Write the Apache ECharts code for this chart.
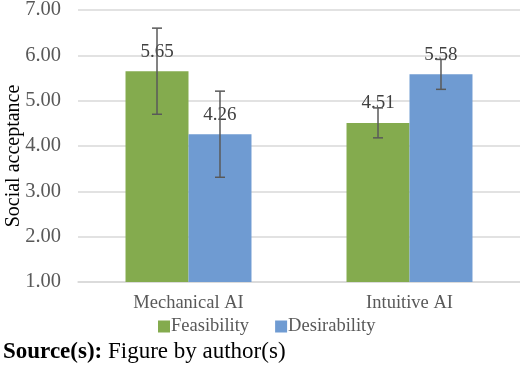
<!DOCTYPE html>
<html>
<head>
<meta charset="utf-8">
<script src="https://cdn.jsdelivr.net/npm/echarts@6/dist/echarts.min.js"></script>
<style>
  html, body { margin: 0; padding: 0; background: #fff; }
  #main { width: 520px; height: 366px; }
</style>
</head>
<body>
<div id="main"></div>
<script>
var categories = ['Mechanical AI', 'Intuitive AI'];
var feasibility = [5.65, 4.51];
var desirability = [4.26, 5.58];
var feasibilityErr = [0.95, 0.33];
var desirabilityErr = [0.95, 0.33];
var yTicks = [1, 2, 3, 4, 5, 6, 7];

var serif = '"Liberation Serif", "Times New Roman", serif';
var chart = echarts.init(document.getElementById('main'));

// error bar for bar series index `idx` (0 = left bar, 1 = right bar)
function errorSeries(name, values, errs, idx) {
  return {
    name: name + ' err',
    type: 'custom',
    z: 10,
    silent: true,
    data: values.map(function (v, i) { return [i, v - errs[i], v + errs[i]]; }),
    renderItem: function (params, api) {
      var ci = api.value(0);
      var lo = api.coord([ci, api.value(1)]);
      var hi = api.coord([ci, api.value(2)]);
      var band = api.size([1, 0])[0];
      var barW = band * 0.285;
      var x = lo[0] + (idx === 0 ? -barW / 2 : barW / 2);
      var cap = 5;
      var style = { stroke: '#595959', lineWidth: 1.5 };
      return {
        type: 'group',
        children: [
          { type: 'line', shape: { x1: x, y1: lo[1], x2: x, y2: hi[1] }, style: style },
          { type: 'line', shape: { x1: x - cap, y1: lo[1], x2: x + cap, y2: lo[1] }, style: style },
          { type: 'line', shape: { x1: x - cap, y1: hi[1], x2: x + cap, y2: hi[1] }, style: style }
        ]
      };
    }
  };
}

var labelStyle = {
  show: true,
  position: 'top',
  distance: 10,
  fontFamily: serif,
  fontSize: 19,
  color: '#404040',
  formatter: function (p) { return p.value.toFixed(2); }
};

chart.setOption({
  animation: false,
  textStyle: { fontFamily: serif },
  grid: { left: 78, right: 0, top: 10, bottom: 84, outerBoundsMode: 'none' },
  legend: {
    data: ['Feasibility', 'Desirability'],
    left: 158,
    top: 317,
    padding: 0,
    itemWidth: 12,
    itemHeight: 12,
    itemGap: 26,
    icon: 'rect',
    textStyle: { fontFamily: serif, fontSize: 18.5, color: '#595959', padding: [0, 0, 0, -4] }
  },
  xAxis: {
    type: 'category',
    data: categories,
    axisTick: { show: false },
    axisLine: { show: true, lineStyle: { color: '#d9d9d9', width: 1.5 } },
    axisLabel: { fontFamily: serif, fontSize: 18.5, color: '#595959', margin: 12 }
  },
  yAxis: {
    type: 'value',
    min: yTicks[0],
    max: yTicks[yTicks.length - 1],
    interval: 1,
    axisLabel: {
      fontFamily: serif, fontSize: 20.5, color: '#595959', margin: 17,
      formatter: function (v) { return v.toFixed(2); }
    },
    splitLine: { lineStyle: { color: '#d9d9d9', width: 1.5 } }
  },
  series: [
    {
      name: 'Feasibility',
      type: 'bar',
      data: feasibility,
      barWidth: '28.5%',
      barGap: '0%',
      itemStyle: { color: '#84AB4E' },
      label: labelStyle
    },
    {
      name: 'Desirability',
      type: 'bar',
      data: desirability,
      barWidth: '28.5%',
      itemStyle: { color: '#6F9BD2' },
      label: labelStyle
    },
    errorSeries('Feasibility', feasibility, feasibilityErr, 0),
    errorSeries('Desirability', desirability, desirabilityErr, 1)
  ],
  graphic: [
    {
      type: 'text',
      x: 14,
      y: 156,
      rotation: Math.PI / 2,
      style: {
        text: 'Social acceptance',
        fontFamily: serif,
        fontSize: 20,
        fill: '#000',
        align: 'center',
        verticalAlign: 'middle'
      }
    },
    {
      type: 'text',
      x: 3,
      y: 352,
      style: {
        text: '{b|Source(s):} Figure by author(s)',
        fontFamily: serif,
        fontSize: 23,
        fill: '#000',
        verticalAlign: 'middle',
        rich: { b: { fontFamily: serif, fontSize: 23, fontWeight: 'bold' } }
      }
    }
  ]
});
</script>
</body>
</html>
